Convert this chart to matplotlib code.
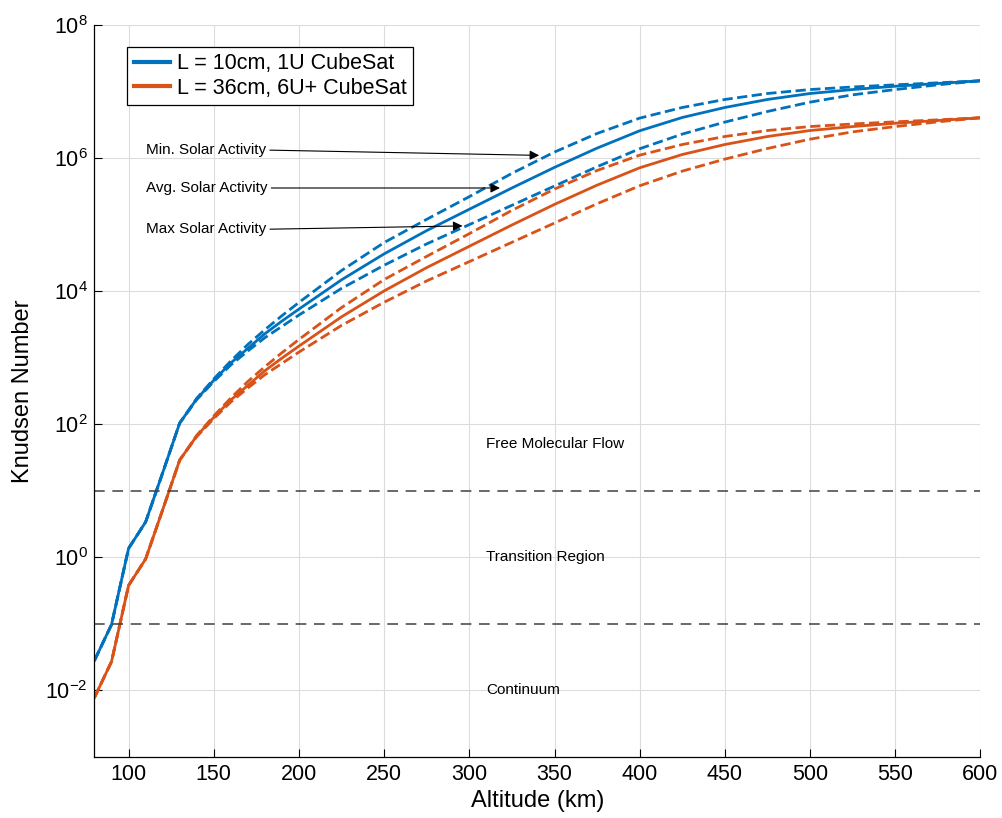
import numpy as np
import matplotlib.pyplot as plt
from matplotlib.ticker import FixedLocator, LogFormatterSciNotation, NullLocator

plt.rcParams['font.family'] = ['Liberation Sans', 'DejaVu Sans']
plt.rcParams['mathtext.default'] = 'regular'

# altitude (km)
altitude = [80, 90, 100, 110, 120, 130, 140, 150, 160, 170, 180, 190, 200,
            225, 250, 275, 300, 325, 350, 375, 400, 425, 450, 475, 500,
            525, 550, 575, 600]

# mean free path (cm) for each solar condition
mfp_min = [0.282, 0.977, 13.6, 33.9, 186, 1040, 2450, 4790, 8910, 15800,
           26300, 42700, 67600, 2.04e5, 5.37e5, 1.20e6, 2.63e6, 5.89e6,
           1.23e7, 2.34e7, 3.98e7, 5.75e7, 7.59e7, 9.33e7, 1.07e8, 1.17e8,
           1.26e8, 1.35e8, 1.45e8]
mfp_avg = [0.282, 0.977, 13.6, 33.9, 186, 1040, 2400, 4570, 8320, 13800,
           22900, 35500, 53700, 1.48e5, 3.63e5, 8.13e5, 1.70e6, 3.55e6,
           7.24e6, 1.41e7, 2.57e7, 4.07e7, 5.75e7, 7.59e7, 9.33e7, 1.07e8,
           1.20e8, 1.32e8, 1.45e8]
mfp_max = [0.282, 0.977, 13.6, 33.9, 186, 1040, 2340, 4370, 7760, 12600,
           20000, 29500, 43700, 1.10e5, 2.45e5, 5.13e5, 1.0e6, 1.95e6,
           3.80e6, 7.41e6, 1.38e7, 2.29e7, 3.47e7, 5.01e7, 6.92e7, 8.91e7,
           1.07e8, 1.26e8, 1.45e8]

# characteristic lengths (cm)
lengths = [10, 36]
labels = ['L = 10cm, 1U CubeSat', 'L = 36cm, 6U+ CubeSat']
colors = ['#0072BD', '#D95319']

# flow regime boundaries
kn_bounds = [10, 0.1]
regimes = [('Free Molecular Flow', 10**1.7), ('Transition Region', 1.0),
           ('Continuum', 1e-2)]

fig = plt.figure(figsize=(10.02, 8.18), dpi=100)
ax = fig.add_axes([0.0943, 0.0746, 0.8842, 0.8949])

for L, lab, c in zip(lengths, labels, colors):
    alt = np.array(altitude)
    ax.plot(alt, np.array(mfp_avg) / L, color=c, lw=2.0, label=lab)
    ax.plot(alt, np.array(mfp_min) / L, color=c, lw=2.0, ls='--')
    ax.plot(alt, np.array(mfp_max) / L, color=c, lw=2.0, ls='--')

for kb in kn_bounds:
    ax.axhline(kb, color='#404040', lw=1.1, dashes=(7, 5))

for txt, yv in regimes:
    ax.text(310, yv, txt, fontsize=11, ha='left', va='center')

# arrows pointing at the solar activity curves
arrows = [('Min. Solar Activity', 110, 10**6.12, 341, 10**6.04),
          ('Avg. Solar Activity', 110, 10**5.55, 318, 10**5.55),
          ('Max Solar Activity', 110, 10**4.93, 296, 10**4.98)]
for txt, tx, ty, px, py in arrows:
    ax.annotate(txt, xy=(px, py), xytext=(tx, ty), fontsize=11,
                ha='left', va='center',
                arrowprops=dict(arrowstyle='-|>', color='k', lw=0.8,
                                mutation_scale=14, relpos=(1, 0.5),
                                shrinkA=1, shrinkB=0))

ax.set_yscale('log')
ax.set_xlim(80, 600)
ax.set_ylim(1e-3, 1e8)
ax.set_xticks(np.arange(100, 601, 50))
ax.yaxis.set_major_locator(FixedLocator([1e-2, 1e0, 1e2, 1e4, 1e6, 1e8]))
ax.yaxis.set_major_formatter(LogFormatterSciNotation())
ax.yaxis.set_minor_locator(NullLocator())
ax.tick_params(direction='in', length=6, width=0.8, labelsize=15.5, pad=5)
ax.grid(True, color='#dcdcdc', lw=0.8)
ax.set_axisbelow(True)
for s in ['top', 'right']:
    ax.spines[s].set_visible(False)
for s in ['left', 'bottom']:
    ax.spines[s].set_linewidth(0.9)

ax.set_xlabel('Altitude (km)', fontsize=17, labelpad=4)
ax.set_ylabel('Knudsen Number', fontsize=17, labelpad=8)

leg = ax.legend(loc='upper left', bbox_to_anchor=(0.037, 0.97), fontsize=15.5,
                handlelength=1.7, handletextpad=0.3, borderpad=0.3,
                labelspacing=0.15, borderaxespad=0, fancybox=False,
                framealpha=1)
leg.get_frame().set_edgecolor('k')
leg.get_frame().set_linewidth(0.9)
for h in leg.legend_handles:
    h.set_linewidth(3)

fig.savefig('out.png', dpi=100)
